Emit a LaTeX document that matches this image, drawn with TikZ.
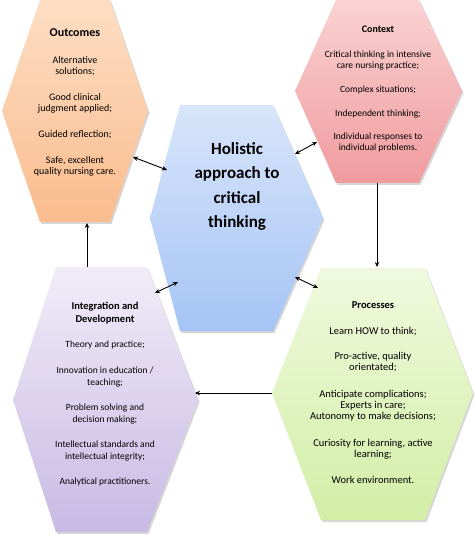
\documentclass[tikz,border=0pt]{standalone}
\usepackage{fontspec}
\setmainfont{Carlito}
\usetikzlibrary{arrows.meta}
\definecolor{orT}{RGB}{253,222,196}
\definecolor{orB}{RGB}{250,188,142}
\definecolor{piT}{RGB}{250,210,210}
\definecolor{piB}{RGB}{240,155,158}
\definecolor{blT}{RGB}{216,229,250}
\definecolor{blB}{RGB}{165,196,245}
\definecolor{puT}{RGB}{241,236,248}
\definecolor{puB}{RGB}{200,186,228}
\definecolor{grT}{RGB}{240,249,222}
\definecolor{grB}{RGB}{210,238,166}
\newcommand\hdr[1]{{\bfseries #1}}
\begin{document}
\begin{tikzpicture}[x=1pt,y=-1pt,
  hexshadow/.style={fill=black,opacity=0.16},
  link/.style={line width=0.9pt,-{Stealth[length=5pt,width=4.5pt]}},
  dlink/.style={line width=0.9pt,{Stealth[length=5pt,width=4.5pt]}-{Stealth[length=5pt,width=4.5pt]}},
  txt/.style={align=center,inner sep=0pt,anchor=north,text=black}]
\useasboundingbox (0,0) rectangle (474,534);
\fill[white] (0,0) rectangle (474,534);
% shadows
\begin{scope}[shift={(1.5,2)}]
\fill[hexshadow] (40,0)--(110,0)--(148,111)--(110,222)--(40,222)--(2,111)--cycle;
\fill[hexshadow] (336,0)--(419,0)--(462,91)--(419,183)--(336,183)--(295,91)--cycle;
\fill[hexshadow] (180,105)--(273,105)--(323,218)--(273,331)--(180,331)--(150,218)--cycle;
\fill[hexshadow] (56,267)--(147,267)--(198,400)--(147,532)--(56,532)--(13,400)--cycle;
\fill[hexshadow] (321,268)--(425,268)--(473,393)--(425,520)--(321,520)--(272,393)--cycle;
\end{scope}
% hexagons
\shade[top color=orT,bottom color=orB] (40,0)--(110,0)--(148,111)--(110,222)--(40,222)--(2,111)--cycle;
\shade[top color=piT,bottom color=piB] (336,0)--(419,0)--(462,91)--(419,183)--(336,183)--(295,91)--cycle;
\shade[top color=blT,bottom color=blB] (180,105)--(273,105)--(323,218)--(273,331)--(180,331)--(150,218)--cycle;
\shade[top color=puT,bottom color=puB] (56,267)--(147,267)--(198,400)--(147,532)--(56,532)--(13,400)--cycle;
\shade[top color=grT,bottom color=grB] (321,268)--(425,268)--(473,393)--(425,520)--(321,520)--(272,393)--cycle;
% texts
\node[txt,font=\fontsize{10}{11}\selectfont] (outtxt) at (75,28)
 {{\fontsize{12}{14}\selectfont\bfseries Outcomes}\\[16pt]
  Alternative\\ solutions;\\[15pt]
  Good clinical\\ judgment applied;\\[15pt]
  Guided reflection;\\[15pt]
  Safe, excellent\\ quality nursing care.};
\node[txt,font=\fontsize{9.5}{10.5}\selectfont] (ctxtxt) at (378,26)
 {{\fontsize{10}{12}\selectfont\bfseries Context}\\[14.5pt]
  Critical thinking in intensive\\ care nursing practice;\\[14pt]
  Complex situations;\\[13pt]
  Independent thinking;\\[13pt]
  Individual responses to\\ individual problems.};
\node[txt,font=\fontsize{17}{24.5}\selectfont\bfseries] (holtxt) at (237,142)
 {Holistic\\ approach to\\ critical\\ thinking};
\node[txt,font=\fontsize{9.5}{12}\selectfont] (inttxt) at (105,302)
 {{\fontsize{10.5}{13}\selectfont\bfseries Integration and}\\[1pt]
  {\fontsize{10.5}{13}\selectfont\bfseries Development}\\[13pt]
  Theory and practice;\\[14pt]
  Innovation in education /\\ teaching;\\[13pt]
  Problem solving and\\ decision making;\\[13pt]
  Intellectual standards and\\ intellectual integrity;\\[13pt]
  Analytical practitioners.};
\node[txt,font=\fontsize{10.5}{11}\selectfont] (protxt) at (373,301)
 {{\fontsize{10.5}{13}\selectfont\bfseries Processes}\\[15pt]
  Learn HOW to think;\\[14pt]
  Pro-active, quality\\ orientated;\\[16pt]
  Anticipate complications;\\ Experts in care;\\ Autonomy to make decisions;\\[16pt]
  Curiosity for learning, active\\ learning;\\[15pt]
  Work environment.};
% connector end points
\coordinate (o1) at (133,157);
\coordinate (h1) at (167,170);
\coordinate (c1) at (317,142);
\coordinate (h2) at (295,154);
\coordinate (h3) at (178,282);
\coordinate (i1) at (155,293);
\coordinate (h4) at (295,277);
\coordinate (p1) at (318,288);
\coordinate (cb) at (377,183);
\coordinate (pt) at (377,267);
\coordinate (pl) at (272,393);
\coordinate (ir) at (195,393);
\coordinate (it) at (87,267);
\coordinate (ob) at (87,223);
\draw[dlink] (o1) -- (h1);
\draw[dlink] (c1) -- (h2);
\draw[dlink] (h3) -- (i1);
\draw[dlink] (h4) -- (p1);
\draw[link] (cb) -- (pt);
\draw[link] (pl) -- (ir);
\draw[link] (it) -- (ob);
\end{tikzpicture}
\end{document}
